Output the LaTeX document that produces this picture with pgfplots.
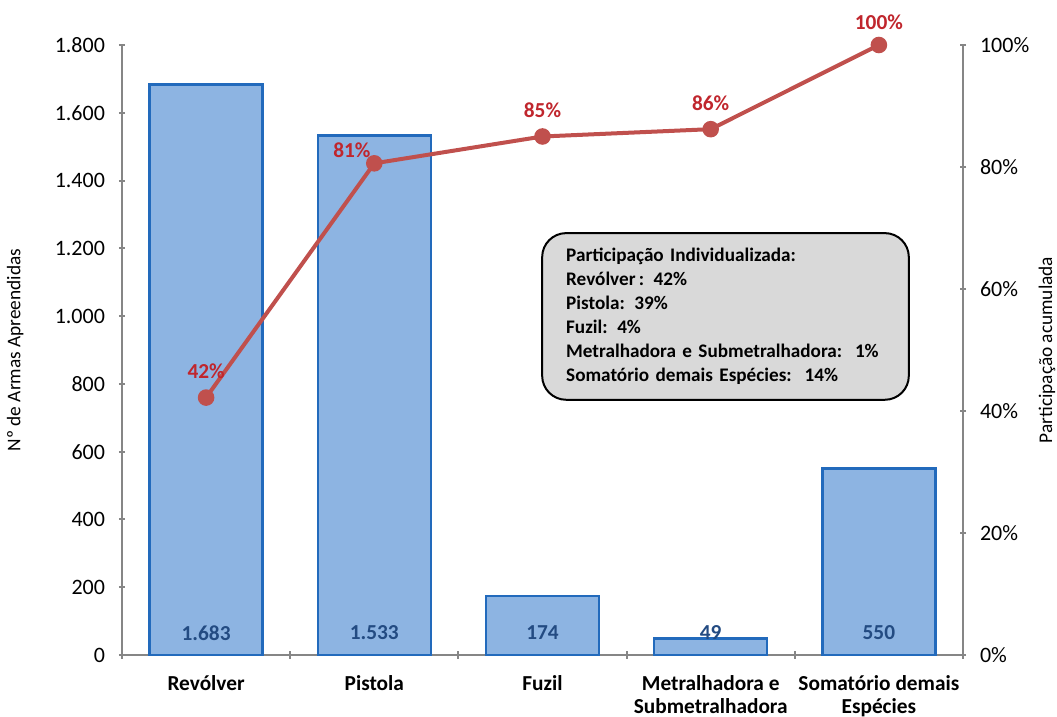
\documentclass[border=0pt]{standalone}
\usepackage{pgfplots}
\pgfplotsset{compat=1.18}
\usepackage{fontspec}
\setmainfont{Carlito}
\definecolor{barfill}{RGB}{141,180,226}
\definecolor{baredge}{RGB}{34,106,188}
\definecolor{axgray}{RGB}{134,134,134}
\definecolor{linered}{RGB}{192,80,77}
\definecolor{labred}{RGB}{192,38,45}
\definecolor{labblue}{RGB}{35,75,130}
\definecolor{boxgray}{RGB}{217,217,217}
\begin{document}
\begin{tikzpicture}
\useasboundingbox (0,0) rectangle (792.75pt,537.75pt);
\pgfplotsset{common/.style={
  at={(91.5pt,46.5pt)}, anchor=south west, scale only axis,
  width=630.75pt, height=457.5pt,
  xmin=-0.5, xmax=4.5, clip=false,
  /pgf/number format/assume math mode=true,
  tick style={axgray, line width=1.5pt},
  tick align=outside,
  major tick length=4.5pt,
},
noarrows/.style={
  axis line style={-, axgray, line width=2pt},
  every outer x axis line/.append style={-},
  every outer y axis line/.append style={-},
  every inner x axis line/.append style={-},
  every inner y axis line/.append style={-},
}}
\begin{axis}[common,
  axis x line=bottom, axis y line=left, noarrows,
  ymin=0, ymax=1800, ytick={0,200,...,1800},
  yticklabel style={font=\fontsize{16.5}{19}\selectfont, xshift=-7pt, /pgf/number format/.cd, 1000 sep={.}},
  xtick={0,...,4}, major x tick style={draw=none},
  xticklabels={Revólver, Pistola, Fuzil, {Metralhadora e\\Submetralhadora}, {Somatório demais\\Espécies}},
  xticklabel style={font=\bfseries\fontsize{16}{17.5}\selectfont, align=center, yshift=-9.5pt},
  minor xtick={-0.5,0.5,...,4.5}, minor tick length=6pt,
  ylabel={Nº de Armas Apreendidas},
  ylabel style={at={(axis description cs:-0.127,0.5)}, anchor=center, font=\fontsize{14.5}{17}\selectfont},
]
\addplot[ybar, bar width=0.672, fill=barfill, draw=baredge, line width=1.8pt]
  coordinates {(0,1683) (1,1533) (2,174) (3,49) (4,550)};
\addplot[draw=none, nodes near coords, point meta=explicit symbolic,
  nodes near coords style={anchor=center, font=\bfseries\fontsize{16}{19}\selectfont, text=labblue}]
  coordinates {(0,65)[1.683] (1,65)[1.533] (2,65)[174] (3,65)[49] (4,65)[550]};
\end{axis}
\begin{axis}[common,
  axis y line=right, axis x line=none, xtick=\empty, noarrows,
  ymin=0, ymax=100, ytick={0,20,...,100},
  yticklabel={\pgfmathprintnumber{\tick}\%},
  yticklabel style={font=\fontsize{16.5}{19}\selectfont, xshift=7pt},
  ylabel={Participação acumulada},
  ylabel style={at={(axis description cs:1.0999,0.5)}, anchor=center, font=\fontsize{14.5}{17}\selectfont},
]
\addplot[linered, line width=3pt, mark=*, mark size=4.7pt, mark options={fill=linered, draw=linered}]
  coordinates {(0,42.2) (1,80.6) (2,85.0) (3,86.2) (4,100)};
\addplot[draw=none, nodes near coords, point meta=explicit symbolic,
  nodes near coords style={anchor=center, font=\bfseries\fontsize{16}{19}\selectfont, text=labred}]
  coordinates {(0,46.6)[42\%] (0.867,82.8)[81\%] (2,89.3)[85\%] (3,90.5)[86\%] (4,103.8)[100\%]};
\node[draw=black, line width=1.5pt, fill=boxgray, rounded corners=18pt, text width=239pt,
  inner xsep=18pt, minimum height=125pt, align=left,
  font=\bfseries\fontsize{14.4}{18}\selectfont] at (axis cs:3.088,55.5)
  {Participação Individualizada:\\
   Revólver\,: 42\%\\
   Pistola: 39\%\\
   Fuzil: 4\%\\
   Metralhadora e Submetralhadora:~~1\%\\
   Somatório demais Espécies:~~14\%};
\end{axis}
\end{tikzpicture}
\end{document}
